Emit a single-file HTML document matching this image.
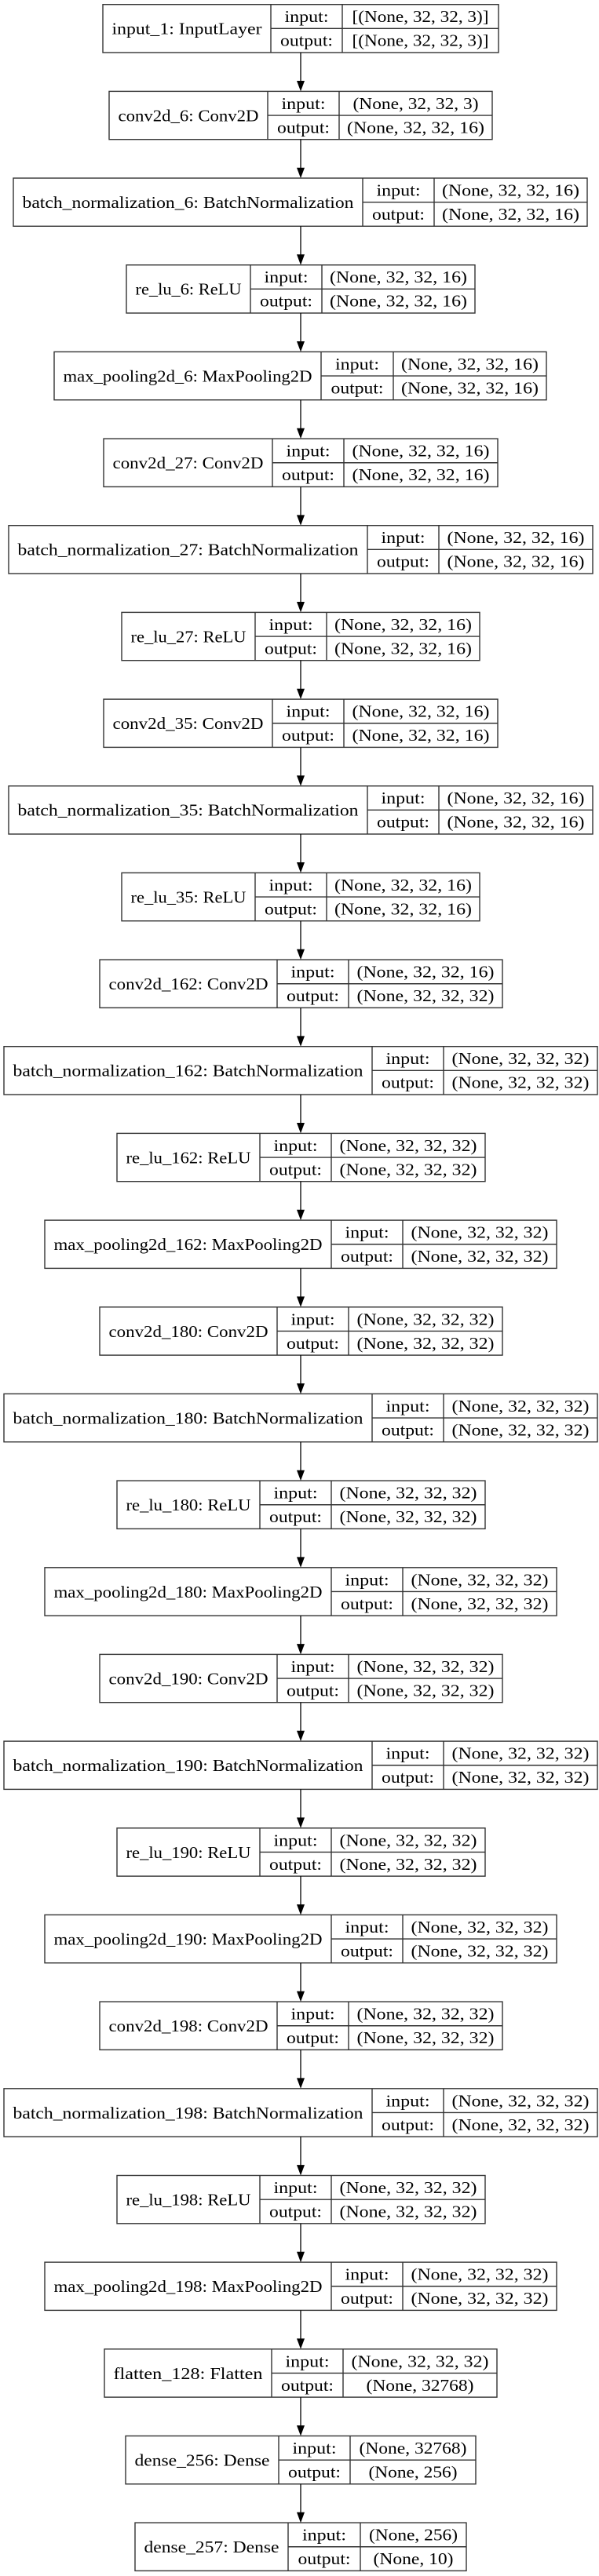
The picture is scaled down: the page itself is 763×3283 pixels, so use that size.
<!DOCTYPE html>
<html><head><meta charset="utf-8"><style>
html,body{margin:0;padding:0;background:#fff}
svg{display:block}
text{font-family:"Liberation Serif",serif;font-size:21px;fill:#000;text-anchor:middle}
rect,line.b{fill:#fff;stroke:#333;stroke-width:1.4}
line.a{stroke:#000;stroke-width:1.3}
polygon{fill:#000}
</style></head><body>
<svg width="763" height="3283" viewBox="0 0 763 3283" xmlns="http://www.w3.org/2000/svg">
<defs>
<g id="ar"><line class="a" x1="383" y1="0" x2="383" y2="38"/><polygon points="378,36 388,36 383,49.4"/></g>
</defs>

<g transform="translate(0,5.7)"><rect x="131" y="0" width="504" height="61.3"/><line class="b" x1="345" y1="0" x2="345" y2="61.3"/><line class="b" x1="436" y1="0" x2="436" y2="61.3"/><line class="b" x1="345" y1="30.65" x2="635" y2="30.65"/><text x="238" y="38" textLength="191" lengthAdjust="spacingAndGlyphs">input_1: InputLayer</text><text x="390.5" y="22.5" textLength="56" lengthAdjust="spacingAndGlyphs">input:</text><text x="390.5" y="53" textLength="67" lengthAdjust="spacingAndGlyphs">output:</text><text x="535.5" y="22.5" textLength="174" lengthAdjust="spacingAndGlyphs">[(None, 32, 32, 3)]</text><text x="535.5" y="53" textLength="174" lengthAdjust="spacingAndGlyphs">[(None, 32, 32, 3)]</text></g>
<use href="#ar" y="67"/>
<g transform="translate(0,116.4)"><rect x="139" y="0" width="488" height="61.3"/><line class="b" x1="341" y1="0" x2="341" y2="61.3"/><line class="b" x1="432" y1="0" x2="432" y2="61.3"/><line class="b" x1="341" y1="30.65" x2="627" y2="30.65"/><text x="240" y="38" textLength="179" lengthAdjust="spacingAndGlyphs">conv2d_6: Conv2D</text><text x="386.5" y="22.5" textLength="56" lengthAdjust="spacingAndGlyphs">input:</text><text x="386.5" y="53" textLength="67" lengthAdjust="spacingAndGlyphs">output:</text><text x="529.5" y="22.5" textLength="160" lengthAdjust="spacingAndGlyphs">(None, 32, 32, 3)</text><text x="529.5" y="53" textLength="175" lengthAdjust="spacingAndGlyphs">(None, 32, 32, 16)</text></g>
<use href="#ar" y="177.7"/>
<g transform="translate(0,227.0)"><rect x="17" y="0" width="731" height="61.3"/><line class="b" x1="462" y1="0" x2="462" y2="61.3"/><line class="b" x1="553" y1="0" x2="553" y2="61.3"/><line class="b" x1="462" y1="30.65" x2="748" y2="30.65"/><text x="239.5" y="38" textLength="422" lengthAdjust="spacingAndGlyphs">batch_normalization_6: BatchNormalization</text><text x="507.5" y="22.5" textLength="56" lengthAdjust="spacingAndGlyphs">input:</text><text x="507.5" y="53" textLength="67" lengthAdjust="spacingAndGlyphs">output:</text><text x="650.5" y="22.5" textLength="175" lengthAdjust="spacingAndGlyphs">(None, 32, 32, 16)</text><text x="650.5" y="53" textLength="175" lengthAdjust="spacingAndGlyphs">(None, 32, 32, 16)</text></g>
<use href="#ar" y="288.3"/>
<g transform="translate(0,337.7)"><rect x="161" y="0" width="444" height="61.3"/><line class="b" x1="319" y1="0" x2="319" y2="61.3"/><line class="b" x1="410" y1="0" x2="410" y2="61.3"/><line class="b" x1="319" y1="30.65" x2="605" y2="30.65"/><text x="240" y="38" textLength="135" lengthAdjust="spacingAndGlyphs">re_lu_6: ReLU</text><text x="364.5" y="22.5" textLength="56" lengthAdjust="spacingAndGlyphs">input:</text><text x="364.5" y="53" textLength="67" lengthAdjust="spacingAndGlyphs">output:</text><text x="507.5" y="22.5" textLength="175" lengthAdjust="spacingAndGlyphs">(None, 32, 32, 16)</text><text x="507.5" y="53" textLength="175" lengthAdjust="spacingAndGlyphs">(None, 32, 32, 16)</text></g>
<use href="#ar" y="399"/>
<g transform="translate(0,448.4)"><rect x="69" y="0" width="627" height="61.3"/><line class="b" x1="409" y1="0" x2="409" y2="61.3"/><line class="b" x1="501" y1="0" x2="501" y2="61.3"/><line class="b" x1="409" y1="30.65" x2="696" y2="30.65"/><text x="239" y="38" textLength="317" lengthAdjust="spacingAndGlyphs">max_pooling2d_6: MaxPooling2D</text><text x="455" y="22.5" textLength="56" lengthAdjust="spacingAndGlyphs">input:</text><text x="455" y="53" textLength="67" lengthAdjust="spacingAndGlyphs">output:</text><text x="598.5" y="22.5" textLength="175" lengthAdjust="spacingAndGlyphs">(None, 32, 32, 16)</text><text x="598.5" y="53" textLength="175" lengthAdjust="spacingAndGlyphs">(None, 32, 32, 16)</text></g>
<use href="#ar" y="509.7"/>
<g transform="translate(0,559.1)"><rect x="132" y="0" width="502" height="61.3"/><line class="b" x1="347" y1="0" x2="347" y2="61.3"/><line class="b" x1="438" y1="0" x2="438" y2="61.3"/><line class="b" x1="347" y1="30.65" x2="634" y2="30.65"/><text x="239.5" y="38" textLength="192" lengthAdjust="spacingAndGlyphs">conv2d_27: Conv2D</text><text x="392.5" y="22.5" textLength="56" lengthAdjust="spacingAndGlyphs">input:</text><text x="392.5" y="53" textLength="67" lengthAdjust="spacingAndGlyphs">output:</text><text x="536" y="22.5" textLength="175" lengthAdjust="spacingAndGlyphs">(None, 32, 32, 16)</text><text x="536" y="53" textLength="175" lengthAdjust="spacingAndGlyphs">(None, 32, 32, 16)</text></g>
<use href="#ar" y="620.4"/>
<g transform="translate(0,669.7)"><rect x="11" y="0" width="744" height="61.3"/><line class="b" x1="468" y1="0" x2="468" y2="61.3"/><line class="b" x1="559" y1="0" x2="559" y2="61.3"/><line class="b" x1="468" y1="30.65" x2="755" y2="30.65"/><text x="239.5" y="38" textLength="434" lengthAdjust="spacingAndGlyphs">batch_normalization_27: BatchNormalization</text><text x="513.5" y="22.5" textLength="56" lengthAdjust="spacingAndGlyphs">input:</text><text x="513.5" y="53" textLength="67" lengthAdjust="spacingAndGlyphs">output:</text><text x="657" y="22.5" textLength="175" lengthAdjust="spacingAndGlyphs">(None, 32, 32, 16)</text><text x="657" y="53" textLength="175" lengthAdjust="spacingAndGlyphs">(None, 32, 32, 16)</text></g>
<use href="#ar" y="731"/>
<g transform="translate(0,780.4)"><rect x="155" y="0" width="456" height="61.3"/><line class="b" x1="325" y1="0" x2="325" y2="61.3"/><line class="b" x1="416" y1="0" x2="416" y2="61.3"/><line class="b" x1="325" y1="30.65" x2="611" y2="30.65"/><text x="240" y="38" textLength="147" lengthAdjust="spacingAndGlyphs">re_lu_27: ReLU</text><text x="370.5" y="22.5" textLength="56" lengthAdjust="spacingAndGlyphs">input:</text><text x="370.5" y="53" textLength="67" lengthAdjust="spacingAndGlyphs">output:</text><text x="513.5" y="22.5" textLength="175" lengthAdjust="spacingAndGlyphs">(None, 32, 32, 16)</text><text x="513.5" y="53" textLength="175" lengthAdjust="spacingAndGlyphs">(None, 32, 32, 16)</text></g>
<use href="#ar" y="841.7"/>
<g transform="translate(0,891.1)"><rect x="132" y="0" width="502" height="61.3"/><line class="b" x1="347" y1="0" x2="347" y2="61.3"/><line class="b" x1="438" y1="0" x2="438" y2="61.3"/><line class="b" x1="347" y1="30.65" x2="634" y2="30.65"/><text x="239.5" y="38" textLength="192" lengthAdjust="spacingAndGlyphs">conv2d_35: Conv2D</text><text x="392.5" y="22.5" textLength="56" lengthAdjust="spacingAndGlyphs">input:</text><text x="392.5" y="53" textLength="67" lengthAdjust="spacingAndGlyphs">output:</text><text x="536" y="22.5" textLength="175" lengthAdjust="spacingAndGlyphs">(None, 32, 32, 16)</text><text x="536" y="53" textLength="175" lengthAdjust="spacingAndGlyphs">(None, 32, 32, 16)</text></g>
<use href="#ar" y="952.4"/>
<g transform="translate(0,1001.7)"><rect x="11" y="0" width="744" height="61.3"/><line class="b" x1="468" y1="0" x2="468" y2="61.3"/><line class="b" x1="559" y1="0" x2="559" y2="61.3"/><line class="b" x1="468" y1="30.65" x2="755" y2="30.65"/><text x="239.5" y="38" textLength="434" lengthAdjust="spacingAndGlyphs">batch_normalization_35: BatchNormalization</text><text x="513.5" y="22.5" textLength="56" lengthAdjust="spacingAndGlyphs">input:</text><text x="513.5" y="53" textLength="67" lengthAdjust="spacingAndGlyphs">output:</text><text x="657" y="22.5" textLength="175" lengthAdjust="spacingAndGlyphs">(None, 32, 32, 16)</text><text x="657" y="53" textLength="175" lengthAdjust="spacingAndGlyphs">(None, 32, 32, 16)</text></g>
<use href="#ar" y="1063"/>
<g transform="translate(0,1112.4)"><rect x="155" y="0" width="456" height="61.3"/><line class="b" x1="325" y1="0" x2="325" y2="61.3"/><line class="b" x1="416" y1="0" x2="416" y2="61.3"/><line class="b" x1="325" y1="30.65" x2="611" y2="30.65"/><text x="240" y="38" textLength="147" lengthAdjust="spacingAndGlyphs">re_lu_35: ReLU</text><text x="370.5" y="22.5" textLength="56" lengthAdjust="spacingAndGlyphs">input:</text><text x="370.5" y="53" textLength="67" lengthAdjust="spacingAndGlyphs">output:</text><text x="513.5" y="22.5" textLength="175" lengthAdjust="spacingAndGlyphs">(None, 32, 32, 16)</text><text x="513.5" y="53" textLength="175" lengthAdjust="spacingAndGlyphs">(None, 32, 32, 16)</text></g>
<use href="#ar" y="1173.7"/>
<g transform="translate(0,1223.1)"><rect x="127" y="0" width="513" height="61.3"/><line class="b" x1="353" y1="0" x2="353" y2="61.3"/><line class="b" x1="444" y1="0" x2="444" y2="61.3"/><line class="b" x1="353" y1="30.65" x2="640" y2="30.65"/><text x="240" y="38" textLength="203" lengthAdjust="spacingAndGlyphs">conv2d_162: Conv2D</text><text x="398.5" y="22.5" textLength="56" lengthAdjust="spacingAndGlyphs">input:</text><text x="398.5" y="53" textLength="67" lengthAdjust="spacingAndGlyphs">output:</text><text x="542" y="22.5" textLength="175" lengthAdjust="spacingAndGlyphs">(None, 32, 32, 16)</text><text x="542" y="53" textLength="175" lengthAdjust="spacingAndGlyphs">(None, 32, 32, 32)</text></g>
<use href="#ar" y="1284.4"/>
<g transform="translate(0,1333.7)"><rect x="5" y="0" width="756" height="61.3"/><line class="b" x1="474" y1="0" x2="474" y2="61.3"/><line class="b" x1="565" y1="0" x2="565" y2="61.3"/><line class="b" x1="474" y1="30.65" x2="761" y2="30.65"/><text x="239.5" y="38" textLength="446" lengthAdjust="spacingAndGlyphs">batch_normalization_162: BatchNormalization</text><text x="519.5" y="22.5" textLength="56" lengthAdjust="spacingAndGlyphs">input:</text><text x="519.5" y="53" textLength="67" lengthAdjust="spacingAndGlyphs">output:</text><text x="663" y="22.5" textLength="175" lengthAdjust="spacingAndGlyphs">(None, 32, 32, 32)</text><text x="663" y="53" textLength="175" lengthAdjust="spacingAndGlyphs">(None, 32, 32, 32)</text></g>
<use href="#ar" y="1395"/>
<g transform="translate(0,1444.4)"><rect x="149" y="0" width="469" height="61.3"/><line class="b" x1="331" y1="0" x2="331" y2="61.3"/><line class="b" x1="422" y1="0" x2="422" y2="61.3"/><line class="b" x1="331" y1="30.65" x2="618" y2="30.65"/><text x="240" y="38" textLength="159" lengthAdjust="spacingAndGlyphs">re_lu_162: ReLU</text><text x="376.5" y="22.5" textLength="56" lengthAdjust="spacingAndGlyphs">input:</text><text x="376.5" y="53" textLength="67" lengthAdjust="spacingAndGlyphs">output:</text><text x="520" y="22.5" textLength="175" lengthAdjust="spacingAndGlyphs">(None, 32, 32, 32)</text><text x="520" y="53" textLength="175" lengthAdjust="spacingAndGlyphs">(None, 32, 32, 32)</text></g>
<use href="#ar" y="1505.7"/>
<g transform="translate(0,1555.1)"><rect x="57" y="0" width="652" height="61.3"/><line class="b" x1="422" y1="0" x2="422" y2="61.3"/><line class="b" x1="513" y1="0" x2="513" y2="61.3"/><line class="b" x1="422" y1="30.65" x2="709" y2="30.65"/><text x="239.5" y="38" textLength="342" lengthAdjust="spacingAndGlyphs">max_pooling2d_162: MaxPooling2D</text><text x="467.5" y="22.5" textLength="56" lengthAdjust="spacingAndGlyphs">input:</text><text x="467.5" y="53" textLength="67" lengthAdjust="spacingAndGlyphs">output:</text><text x="611" y="22.5" textLength="175" lengthAdjust="spacingAndGlyphs">(None, 32, 32, 32)</text><text x="611" y="53" textLength="175" lengthAdjust="spacingAndGlyphs">(None, 32, 32, 32)</text></g>
<use href="#ar" y="1616.4"/>
<g transform="translate(0,1665.8)"><rect x="127" y="0" width="513" height="61.3"/><line class="b" x1="353" y1="0" x2="353" y2="61.3"/><line class="b" x1="444" y1="0" x2="444" y2="61.3"/><line class="b" x1="353" y1="30.65" x2="640" y2="30.65"/><text x="240" y="38" textLength="203" lengthAdjust="spacingAndGlyphs">conv2d_180: Conv2D</text><text x="398.5" y="22.5" textLength="56" lengthAdjust="spacingAndGlyphs">input:</text><text x="398.5" y="53" textLength="67" lengthAdjust="spacingAndGlyphs">output:</text><text x="542" y="22.5" textLength="175" lengthAdjust="spacingAndGlyphs">(None, 32, 32, 32)</text><text x="542" y="53" textLength="175" lengthAdjust="spacingAndGlyphs">(None, 32, 32, 32)</text></g>
<use href="#ar" y="1727.1"/>
<g transform="translate(0,1776.4)"><rect x="5" y="0" width="756" height="61.3"/><line class="b" x1="474" y1="0" x2="474" y2="61.3"/><line class="b" x1="565" y1="0" x2="565" y2="61.3"/><line class="b" x1="474" y1="30.65" x2="761" y2="30.65"/><text x="239.5" y="38" textLength="446" lengthAdjust="spacingAndGlyphs">batch_normalization_180: BatchNormalization</text><text x="519.5" y="22.5" textLength="56" lengthAdjust="spacingAndGlyphs">input:</text><text x="519.5" y="53" textLength="67" lengthAdjust="spacingAndGlyphs">output:</text><text x="663" y="22.5" textLength="175" lengthAdjust="spacingAndGlyphs">(None, 32, 32, 32)</text><text x="663" y="53" textLength="175" lengthAdjust="spacingAndGlyphs">(None, 32, 32, 32)</text></g>
<use href="#ar" y="1837.7"/>
<g transform="translate(0,1887.1)"><rect x="149" y="0" width="469" height="61.3"/><line class="b" x1="331" y1="0" x2="331" y2="61.3"/><line class="b" x1="422" y1="0" x2="422" y2="61.3"/><line class="b" x1="331" y1="30.65" x2="618" y2="30.65"/><text x="240" y="38" textLength="159" lengthAdjust="spacingAndGlyphs">re_lu_180: ReLU</text><text x="376.5" y="22.5" textLength="56" lengthAdjust="spacingAndGlyphs">input:</text><text x="376.5" y="53" textLength="67" lengthAdjust="spacingAndGlyphs">output:</text><text x="520" y="22.5" textLength="175" lengthAdjust="spacingAndGlyphs">(None, 32, 32, 32)</text><text x="520" y="53" textLength="175" lengthAdjust="spacingAndGlyphs">(None, 32, 32, 32)</text></g>
<use href="#ar" y="1948.4"/>
<g transform="translate(0,1997.8)"><rect x="57" y="0" width="652" height="61.3"/><line class="b" x1="422" y1="0" x2="422" y2="61.3"/><line class="b" x1="513" y1="0" x2="513" y2="61.3"/><line class="b" x1="422" y1="30.65" x2="709" y2="30.65"/><text x="239.5" y="38" textLength="342" lengthAdjust="spacingAndGlyphs">max_pooling2d_180: MaxPooling2D</text><text x="467.5" y="22.5" textLength="56" lengthAdjust="spacingAndGlyphs">input:</text><text x="467.5" y="53" textLength="67" lengthAdjust="spacingAndGlyphs">output:</text><text x="611" y="22.5" textLength="175" lengthAdjust="spacingAndGlyphs">(None, 32, 32, 32)</text><text x="611" y="53" textLength="175" lengthAdjust="spacingAndGlyphs">(None, 32, 32, 32)</text></g>
<use href="#ar" y="2059.1"/>
<g transform="translate(0,2108.4)"><rect x="127" y="0" width="513" height="61.3"/><line class="b" x1="353" y1="0" x2="353" y2="61.3"/><line class="b" x1="444" y1="0" x2="444" y2="61.3"/><line class="b" x1="353" y1="30.65" x2="640" y2="30.65"/><text x="240" y="38" textLength="203" lengthAdjust="spacingAndGlyphs">conv2d_190: Conv2D</text><text x="398.5" y="22.5" textLength="56" lengthAdjust="spacingAndGlyphs">input:</text><text x="398.5" y="53" textLength="67" lengthAdjust="spacingAndGlyphs">output:</text><text x="542" y="22.5" textLength="175" lengthAdjust="spacingAndGlyphs">(None, 32, 32, 32)</text><text x="542" y="53" textLength="175" lengthAdjust="spacingAndGlyphs">(None, 32, 32, 32)</text></g>
<use href="#ar" y="2169.7"/>
<g transform="translate(0,2219.1)"><rect x="5" y="0" width="756" height="61.3"/><line class="b" x1="474" y1="0" x2="474" y2="61.3"/><line class="b" x1="565" y1="0" x2="565" y2="61.3"/><line class="b" x1="474" y1="30.65" x2="761" y2="30.65"/><text x="239.5" y="38" textLength="446" lengthAdjust="spacingAndGlyphs">batch_normalization_190: BatchNormalization</text><text x="519.5" y="22.5" textLength="56" lengthAdjust="spacingAndGlyphs">input:</text><text x="519.5" y="53" textLength="67" lengthAdjust="spacingAndGlyphs">output:</text><text x="663" y="22.5" textLength="175" lengthAdjust="spacingAndGlyphs">(None, 32, 32, 32)</text><text x="663" y="53" textLength="175" lengthAdjust="spacingAndGlyphs">(None, 32, 32, 32)</text></g>
<use href="#ar" y="2280.4"/>
<g transform="translate(0,2329.8)"><rect x="149" y="0" width="469" height="61.3"/><line class="b" x1="331" y1="0" x2="331" y2="61.3"/><line class="b" x1="422" y1="0" x2="422" y2="61.3"/><line class="b" x1="331" y1="30.65" x2="618" y2="30.65"/><text x="240" y="38" textLength="159" lengthAdjust="spacingAndGlyphs">re_lu_190: ReLU</text><text x="376.5" y="22.5" textLength="56" lengthAdjust="spacingAndGlyphs">input:</text><text x="376.5" y="53" textLength="67" lengthAdjust="spacingAndGlyphs">output:</text><text x="520" y="22.5" textLength="175" lengthAdjust="spacingAndGlyphs">(None, 32, 32, 32)</text><text x="520" y="53" textLength="175" lengthAdjust="spacingAndGlyphs">(None, 32, 32, 32)</text></g>
<use href="#ar" y="2391.1"/>
<g transform="translate(0,2440.4)"><rect x="57" y="0" width="652" height="61.3"/><line class="b" x1="422" y1="0" x2="422" y2="61.3"/><line class="b" x1="513" y1="0" x2="513" y2="61.3"/><line class="b" x1="422" y1="30.65" x2="709" y2="30.65"/><text x="239.5" y="38" textLength="342" lengthAdjust="spacingAndGlyphs">max_pooling2d_190: MaxPooling2D</text><text x="467.5" y="22.5" textLength="56" lengthAdjust="spacingAndGlyphs">input:</text><text x="467.5" y="53" textLength="67" lengthAdjust="spacingAndGlyphs">output:</text><text x="611" y="22.5" textLength="175" lengthAdjust="spacingAndGlyphs">(None, 32, 32, 32)</text><text x="611" y="53" textLength="175" lengthAdjust="spacingAndGlyphs">(None, 32, 32, 32)</text></g>
<use href="#ar" y="2501.7"/>
<g transform="translate(0,2551.1)"><rect x="127" y="0" width="513" height="61.3"/><line class="b" x1="353" y1="0" x2="353" y2="61.3"/><line class="b" x1="444" y1="0" x2="444" y2="61.3"/><line class="b" x1="353" y1="30.65" x2="640" y2="30.65"/><text x="240" y="38" textLength="203" lengthAdjust="spacingAndGlyphs">conv2d_198: Conv2D</text><text x="398.5" y="22.5" textLength="56" lengthAdjust="spacingAndGlyphs">input:</text><text x="398.5" y="53" textLength="67" lengthAdjust="spacingAndGlyphs">output:</text><text x="542" y="22.5" textLength="175" lengthAdjust="spacingAndGlyphs">(None, 32, 32, 32)</text><text x="542" y="53" textLength="175" lengthAdjust="spacingAndGlyphs">(None, 32, 32, 32)</text></g>
<use href="#ar" y="2612.4"/>
<g transform="translate(0,2661.8)"><rect x="5" y="0" width="756" height="61.3"/><line class="b" x1="474" y1="0" x2="474" y2="61.3"/><line class="b" x1="565" y1="0" x2="565" y2="61.3"/><line class="b" x1="474" y1="30.65" x2="761" y2="30.65"/><text x="239.5" y="38" textLength="446" lengthAdjust="spacingAndGlyphs">batch_normalization_198: BatchNormalization</text><text x="519.5" y="22.5" textLength="56" lengthAdjust="spacingAndGlyphs">input:</text><text x="519.5" y="53" textLength="67" lengthAdjust="spacingAndGlyphs">output:</text><text x="663" y="22.5" textLength="175" lengthAdjust="spacingAndGlyphs">(None, 32, 32, 32)</text><text x="663" y="53" textLength="175" lengthAdjust="spacingAndGlyphs">(None, 32, 32, 32)</text></g>
<use href="#ar" y="2723.1"/>
<g transform="translate(0,2772.5)"><rect x="149" y="0" width="469" height="61.3"/><line class="b" x1="331" y1="0" x2="331" y2="61.3"/><line class="b" x1="422" y1="0" x2="422" y2="61.3"/><line class="b" x1="331" y1="30.65" x2="618" y2="30.65"/><text x="240" y="38" textLength="159" lengthAdjust="spacingAndGlyphs">re_lu_198: ReLU</text><text x="376.5" y="22.5" textLength="56" lengthAdjust="spacingAndGlyphs">input:</text><text x="376.5" y="53" textLength="67" lengthAdjust="spacingAndGlyphs">output:</text><text x="520" y="22.5" textLength="175" lengthAdjust="spacingAndGlyphs">(None, 32, 32, 32)</text><text x="520" y="53" textLength="175" lengthAdjust="spacingAndGlyphs">(None, 32, 32, 32)</text></g>
<use href="#ar" y="2833.8"/>
<g transform="translate(0,2883.1)"><rect x="57" y="0" width="652" height="61.3"/><line class="b" x1="422" y1="0" x2="422" y2="61.3"/><line class="b" x1="513" y1="0" x2="513" y2="61.3"/><line class="b" x1="422" y1="30.65" x2="709" y2="30.65"/><text x="239.5" y="38" textLength="342" lengthAdjust="spacingAndGlyphs">max_pooling2d_198: MaxPooling2D</text><text x="467.5" y="22.5" textLength="56" lengthAdjust="spacingAndGlyphs">input:</text><text x="467.5" y="53" textLength="67" lengthAdjust="spacingAndGlyphs">output:</text><text x="611" y="22.5" textLength="175" lengthAdjust="spacingAndGlyphs">(None, 32, 32, 32)</text><text x="611" y="53" textLength="175" lengthAdjust="spacingAndGlyphs">(None, 32, 32, 32)</text></g>
<use href="#ar" y="2944.4"/>
<g transform="translate(0,2993.8)"><rect x="133" y="0" width="500" height="61.3"/><line class="b" x1="346" y1="0" x2="346" y2="61.3"/><line class="b" x1="437" y1="0" x2="437" y2="61.3"/><line class="b" x1="346" y1="30.65" x2="633" y2="30.65"/><text x="239.5" y="38" textLength="190" lengthAdjust="spacingAndGlyphs">flatten_128: Flatten</text><text x="391.5" y="22.5" textLength="56" lengthAdjust="spacingAndGlyphs">input:</text><text x="391.5" y="53" textLength="67" lengthAdjust="spacingAndGlyphs">output:</text><text x="535" y="22.5" textLength="175" lengthAdjust="spacingAndGlyphs">(None, 32, 32, 32)</text><text x="535" y="53" textLength="137" lengthAdjust="spacingAndGlyphs">(None, 32768)</text></g>
<use href="#ar" y="3055.1"/>
<g transform="translate(0,3104.5)"><rect x="160" y="0" width="446" height="61.3"/><line class="b" x1="355" y1="0" x2="355" y2="61.3"/><line class="b" x1="446" y1="0" x2="446" y2="61.3"/><line class="b" x1="355" y1="30.65" x2="606" y2="30.65"/><text x="257.5" y="38" textLength="172" lengthAdjust="spacingAndGlyphs">dense_256: Dense</text><text x="400.5" y="22.5" textLength="56" lengthAdjust="spacingAndGlyphs">input:</text><text x="400.5" y="53" textLength="67" lengthAdjust="spacingAndGlyphs">output:</text><text x="526" y="22.5" textLength="137" lengthAdjust="spacingAndGlyphs">(None, 32768)</text><text x="526" y="53" textLength="113" lengthAdjust="spacingAndGlyphs">(None, 256)</text></g>
<use href="#ar" y="3165.8"/>
<g transform="translate(0,3215.1)"><rect x="172" y="0" width="422" height="61.3"/><line class="b" x1="367" y1="0" x2="367" y2="61.3"/><line class="b" x1="459" y1="0" x2="459" y2="61.3"/><line class="b" x1="367" y1="30.65" x2="594" y2="30.65"/><text x="269.5" y="38" textLength="172" lengthAdjust="spacingAndGlyphs">dense_257: Dense</text><text x="413" y="22.5" textLength="56" lengthAdjust="spacingAndGlyphs">input:</text><text x="413" y="53" textLength="67" lengthAdjust="spacingAndGlyphs">output:</text><text x="526.5" y="22.5" textLength="113" lengthAdjust="spacingAndGlyphs">(None, 256)</text><text x="526.5" y="53" textLength="102" lengthAdjust="spacingAndGlyphs">(None, 10)</text></g>
</svg>
</body></html>
